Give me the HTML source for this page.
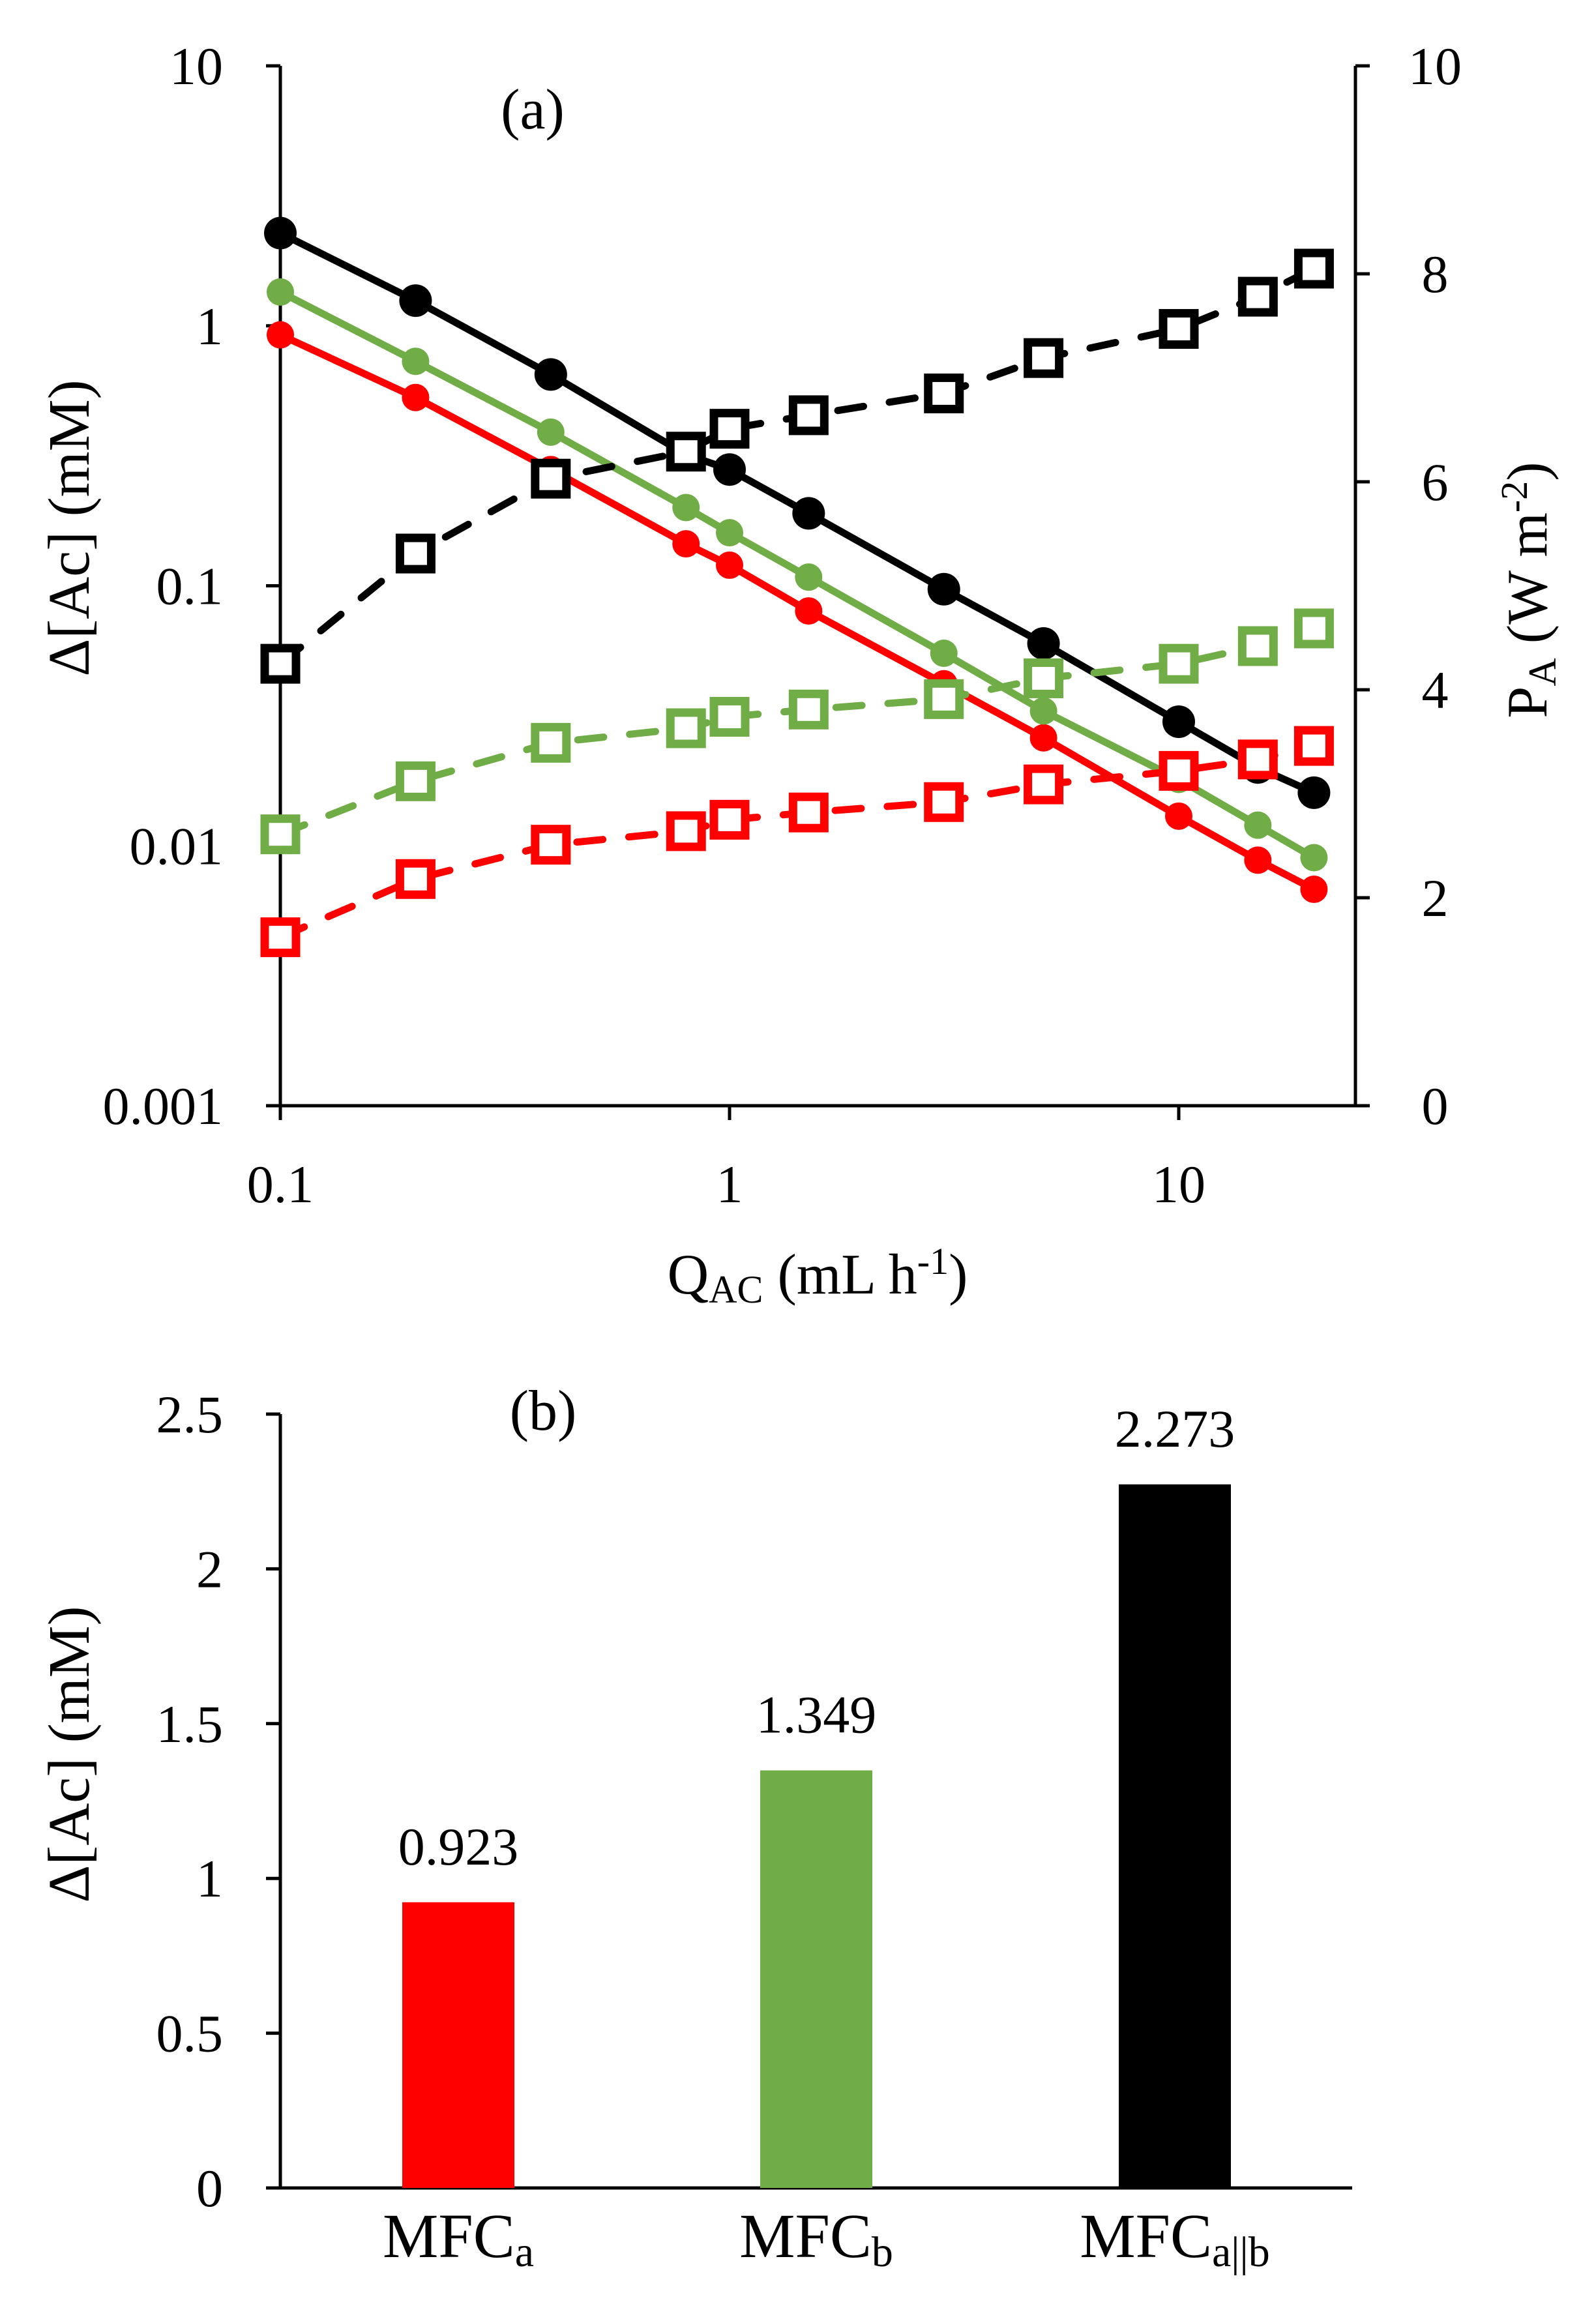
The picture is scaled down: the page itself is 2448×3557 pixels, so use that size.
<!DOCTYPE html>
<html><head><meta charset="utf-8"><style>
html,body{margin:0;padding:0;background:#fff}
svg{display:block}
text{font-family:"Liberation Serif",serif;fill:#000}
</style></head><body>
<svg id="chart" width="2448" height="3557" viewBox="0 0 2448 3557" xmlns="http://www.w3.org/2000/svg">
<g id="panelTop"></g>
<g id="panelBot"></g>
</svg>
<script>
const qValues=[0.1,0.2,0.4,0.8,1,1.5,3,5,10,15,20];
const acBlack=[2.273,1.25,0.65,0.32,0.28,0.19,0.097,0.06,0.03,0.02,0.016];
const acGreen=[1.349,0.73,0.39,0.2,0.16,0.108,0.055,0.033,0.018,0.012,0.009];
const acRed=[0.923,0.53,0.28,0.145,0.12,0.08,0.042,0.026,0.013,0.0088,0.0068];
const paBlack=[4.25,5.31,6.03,6.29,6.51,6.64,6.85,7.19,7.47,7.78,8.05];
const paGreen=[2.61,3.12,3.49,3.63,3.74,3.81,3.91,4.11,4.25,4.42,4.59];
const paRed=[1.62,2.18,2.51,2.64,2.75,2.82,2.92,3.09,3.22,3.33,3.46];
const leftTicks=[10,1,0.1,0.01,0.001];
const leftTickLabels=["10","1","0.1","0.01","0.001"];
const rightTicks=[0,2,4,6,8,10];
const xTicks=[0.1,1,10];
const xTickLabels=["0.1","1","10"];
const barCats=["a","b","a||b"];
const barValues=[0.923,1.349,2.273];
const barTicks=[0,0.5,1,1.5,2,2.5];

const NS="http://www.w3.org/2000/svg";
const FS=82;
function el(parent,tag,attrs,txt){const e=document.createElementNS(NS,tag);for(const k in attrs)e.setAttribute(k,attrs[k]);if(txt!==undefined)e.textContent=txt;parent.appendChild(e);return e;}
const gTop=document.getElementById('panelTop'), gBot=document.getElementById('panelBot');
const L=430,R=2079,T=101,B=1696;
const xs=v=>L+(Math.log10(v)+1)*689;
const yl=v=>B-(Math.log10(v)+3)*398.75;
const yr=v=>B-v*159.5;
const RED="#ff0000",GREEN="#70ad47",BLACK="#000";

let a=el(gTop,'path',{d:`M${L} ${T}V${B}H${R}V${T}`,fill:'none',stroke:'#000','stroke-width':5});


leftTicks.forEach((t,i)=>{const y=yl(t);
 let k=el(gTop,'line',{x1:L-22,x2:L,y1:y,y2:y,stroke:'#000','stroke-width':5});
 
 
 let s=el(gTop,'text',{x:L-88,y:y+28,'font-size':FS,'text-anchor':'end'},leftTickLabels[i]);
 
 });
rightTicks.forEach(t=>{const y=yr(t);
 let k=el(gTop,'line',{x1:R,x2:R+22,y1:y,y2:y,stroke:'#000','stroke-width':5});
 
 
 let s=el(gTop,'text',{x:R+122,y:y+28,'font-size':FS,'text-anchor':'middle'},String(t));
 
 });
xTicks.forEach((t,i)=>{const x=xs(t);
 let k=el(gTop,'line',{x1:x,x2:x,y1:B,y2:B+22,stroke:'#000','stroke-width':5});
 
 
 let s=el(gTop,'text',{x:x,y:1844,'font-size':FS,'text-anchor':'middle'},xTickLabels[i]);
 
 });
let t1=el(gTop,'text',{x:1254,y:1984,'font-size':88,'text-anchor':'middle'});


t1.innerHTML='Q<tspan font-size="60" dy="14">AC</tspan><tspan dy="-14"> (mL h</tspan><tspan font-size="58" dy="-30">-1</tspan><tspan dy="30">)</tspan>';
let t2=el(gTop,'text',{transform:'translate(136 810) rotate(-90)','font-size':90,'text-anchor':'middle'},'Δ[Ac] (mM)');


let t3=el(gTop,'text',{transform:'translate(2372 905) rotate(-90)','font-size':88,'text-anchor':'middle'});


t3.innerHTML='P<tspan font-size="60" dy="14">A</tspan><tspan dy="-14"> (W m</tspan><tspan font-size="58" dy="-30">-2</tspan><tspan dy="30">)</tspan>';
let pa=el(gTop,'text',{x:817,y:197,'font-size':88,'text-anchor':'middle'},'(a)');



function powerSeries(vals,col,name){
 const g=el(gTop,'g',{});
 
 
 const p=el(g,'path',{d:'M'+qValues.map((q,i)=>xs(q)+' '+yr(vals[i])).join('L'),fill:'none',stroke:col,'stroke-width':11,'stroke-dasharray':'40 40','stroke-linecap':'round'});
 
 
 qValues.forEach((q,i)=>{const r=el(g,'rect',{x:xs(q)-24,y:yr(vals[i])-24,width:48,height:48,fill:'#fff',stroke:col,'stroke-width':13});
  
  });
}
function acSeries(vals,col,rad,name){
 const g=el(gTop,'g',{});
 
 
 const p=el(g,'path',{d:'M'+qValues.map((q,i)=>xs(q)+' '+yl(vals[i])).join('L'),fill:'none',stroke:col,'stroke-width':11});
 
 
 qValues.forEach((q,i)=>{const c=el(g,'circle',{cx:xs(q),cy:yl(vals[i]),r:rad,fill:col});
  
  });
}
acSeries(acRed,RED,21,'ac-mfc-a');
acSeries(acGreen,GREEN,21,'ac-mfc-b');
acSeries(acBlack,BLACK,25,'ac-mfc-ab');
powerSeries(paRed,RED,'power-mfc-a');
powerSeries(paGreen,GREEN,'power-mfc-b');
powerSeries(paBlack,BLACK,'power-mfc-ab');

const BL=430,BR=2074,BT=2169,BB=3356;
const yb=v=>BB-(v/2.5)*(BB-BT);
const bx=[703,1252,1802];
let ax=el(gBot,'path',{d:`M${BL} ${BT}V${BB}H${BR}`,fill:'none',stroke:'#000','stroke-width':5});


barTicks.forEach(t=>{const y=yb(t);
 let k=el(gBot,'line',{x1:BL-22,x2:BL,y1:y,y2:y,stroke:'#000','stroke-width':5});
 
 
 let s=el(gBot,'text',{x:BL-88,y:y+28,'font-size':FS,'text-anchor':'end'},String(t));
 
 });
barValues.forEach((v,i)=>{const cols=[RED,GREEN,BLACK];
 let r=el(gBot,'rect',{x:bx[i]-86,y:yb(v),width:172,height:BB-yb(v),fill:cols[i]});
 
 
 let s=el(gBot,'text',{x:bx[i],y:yb(v)-58,'font-size':FS,'text-anchor':'middle'},v.toFixed(3));
 
 
 let c=el(gBot,'text',{x:bx[i],y:3462,'font-size':96,'text-anchor':'middle'});
 
 
 c.textContent='MFC';
 el(c,'tspan',{'font-size':66,dy:14},barCats[i]);
});
let t4=el(gBot,'text',{transform:'translate(136 2691) rotate(-90)','font-size':90,'text-anchor':'middle'},'Δ[Ac] (mM)');


let pb=el(gBot,'text',{x:833,y:2193,'font-size':88,'text-anchor':'middle'},'(b)');


</script>
</body></html>
